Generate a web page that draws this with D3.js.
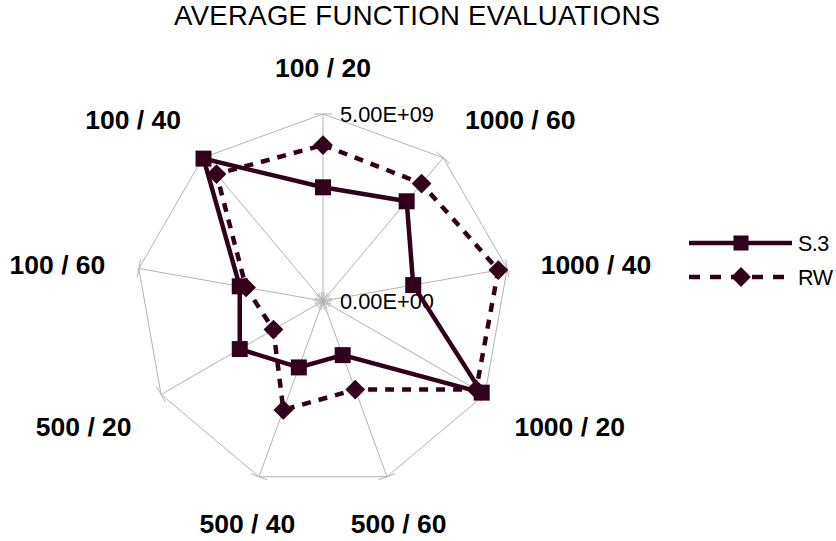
<!DOCTYPE html>
<html>
<head>
<meta charset="utf-8">
<script src="https://cdn.jsdelivr.net/npm/d3@7"></script>
<style>
  html, body { margin: 0; padding: 0; background: #ffffff; }
  svg { display: block; font-family: "Liberation Sans", Arial, sans-serif; }
</style>
</head>
<body>
<svg id="chart" width="836" height="541"></svg>
<script>
// Radar axes, clockwise from the top
const categories = ["100 / 20", "1000 / 60", "1000 / 40", "1000 / 20", "500 / 60", "500 / 40", "500 / 20", "100 / 60", "100 / 40"];
const seriesNames = ["S.3", "RW"];
const s3Values = [3.04e9, 3.48e9, 2.45e9, 4.90e9, 1.54e9, 1.89e9, 2.57e9, 2.26e9, 4.97e9];
const rwValues = [4.17e9, 4.10e9, 4.76e9, 4.73e9, 2.52e9, 3.10e9, 1.53e9, 2.09e9, 4.43e9];
const tickValues = [0, 5e9];
const tickLabels = ["0.00E+00", "5.00E+09"];
const titleText = "AVERAGE FUNCTION EVALUATIONS";

const ink = "#33001c";
const gridColor = "#b3b3b3";

const svg = d3.select("#chart");
const cx = 323, cy = 301, R = 187;

const r = d3.scaleLinear().domain([0, 5e9]).range([0, R]);
const angle = d3.scaleLinear().domain([0, categories.length]).range([0, 2 * Math.PI]);
const pt = (i, v) => {
  const a = angle(i);
  return [cx + r(v) * Math.sin(a), cy - r(v) * Math.cos(a)];
};

// Title
svg.append("text")
  .attr("x", 417).attr("y", 25)
  .attr("text-anchor", "middle")
  .attr("font-size", 27.5)
  .attr("textLength", 486)
  .attr("lengthAdjust", "spacing")
  .attr("fill", "#000")
  .text(titleText);

const grid = svg.append("g").attr("stroke", gridColor).attr("stroke-width", 1).attr("fill", "none");

// Spokes
categories.forEach((c, i) => {
  const [x, y] = pt(i, 5e9);
  grid.append("line").attr("x1", cx).attr("y1", cy).attr("x2", x).attr("y2", y);
});

// Outer ring at the top tick value
grid.append("path")
  .attr("d", d3.line()(categories.map((c, i) => pt(i, tickValues[1]))) + "Z");

// Tick marks across every spoke at each tick value
const tickHalf = 9;
categories.forEach((c, i) => {
  const a = angle(i);
  const px = Math.cos(a), py = Math.sin(a);
  tickValues.forEach(v => {
    const [x, y] = pt(i, v);
    grid.append("line")
      .attr("x1", x - px * tickHalf).attr("y1", y - py * tickHalf)
      .attr("x2", x + px * tickHalf).attr("y2", y + py * tickHalf);
  });
});

// Value labels on the vertical axis
tickValues.forEach((v, k) => {
  svg.append("text")
    .attr("x", cx + 17)
    .attr("y", cy - r(v) + 8)
    .attr("font-size", 21.8)
    .attr("fill", "#000")
    .text(tickLabels[k]);
});

// Category labels, anchored by direction around the ring
const labelR = R + 34;
categories.forEach((c, i) => {
  const a = angle(i);
  const x = cx + labelR * Math.sin(a);
  const y = cy - labelR * Math.cos(a);
  const s = Math.sin(a), co = Math.cos(a);
  const anchor = Math.abs(s) < 0.38 ? "middle" : (s > 0 ? "start" : "end");
  let dy;
  if (co > 0.38) dy = -3;          // above the point
  else if (co < -0.38) dy = 24.5;  // below the point
  else dy = 11;                    // centred on the point
  svg.append("text")
    .attr("x", x).attr("y", y + dy)
    .attr("text-anchor", anchor)
    .attr("font-size", 26.5)
    .attr("font-weight", "bold")
    .attr("fill", "#000")
    .text(c);
});

// Series polygons
const closed = vals => d3.line()(vals.map((v, i) => pt(i, v))) + "Z";

const square = d3.symbol().type(d3.symbolSquare).size(16 * 16);
const diamond = d3.symbol().type(d3.symbolSquare).size(14 * 14);

function drawSeries(vals, dashed, markerPath, rotate) {
  const g = svg.append("g");
  g.append("path")
    .attr("d", closed(vals))
    .attr("fill", "none")
    .attr("stroke", ink)
    .attr("stroke-width", 4.5)
    .attr("stroke-linejoin", "miter")
    .attr("stroke-dasharray", dashed ? "9,8" : null);
  vals.forEach((v, i) => {
    const [x, y] = pt(i, v);
    g.append("path")
      .attr("d", markerPath())
      .attr("transform", `translate(${x},${y})` + (rotate ? " rotate(45)" : ""))
      .attr("fill", ink);
  });
}

drawSeries(s3Values, false, square, false);
drawSeries(rwValues, true, diamond, true);

// Legend
const legend = svg.append("g");
[{ name: seriesNames[0], dashed: false, marker: square, rot: false, y: 243 },
 { name: seriesNames[1], dashed: true, marker: diamond, rot: true, y: 277 }].forEach(d => {
  legend.append("line")
    .attr("x1", 689).attr("x2", 792).attr("y1", d.y).attr("y2", d.y)
    .attr("stroke", ink).attr("stroke-width", 4.5)
    .attr("stroke-dasharray", d.dashed ? "11,10" : null);
  legend.append("path")
    .attr("d", d.marker())
    .attr("transform", `translate(741,${d.y})` + (d.rot ? " rotate(45)" : " scale(0.94)"))
    .attr("fill", ink);
  legend.append("text")
    .attr("x", 798).attr("y", d.y + 8)
    .attr("font-size", 21.5)
    .attr("fill", "#000")
    .attr("letter-spacing", -0.5)
    .text(d.name);
});
</script>
</body>
</html>
